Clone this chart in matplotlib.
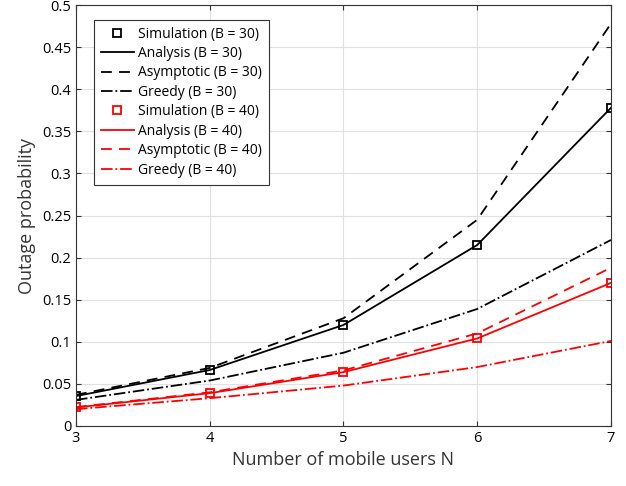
import numpy as np
import matplotlib.pyplot as plt

plt.rcParams['font.family'] = ['Open Sans', 'DejaVu Sans']

N = [3, 4, 5, 6, 7]

# B = 30
sim30 = [0.0355, 0.0665, 0.120, 0.215, 0.378]
ana30 = [0.0355, 0.0665, 0.120, 0.215, 0.378]
asy30 = [0.037, 0.069, 0.128, 0.245, 0.478]
gre30 = [0.031, 0.054, 0.087, 0.139, 0.221]

# B = 40
sim40 = [0.022, 0.039, 0.064, 0.104, 0.170]
ana40 = [0.022, 0.039, 0.064, 0.104, 0.170]
asy40 = [0.0225, 0.040, 0.066, 0.110, 0.188]
gre40 = [0.020, 0.033, 0.048, 0.070, 0.101]

fig = plt.figure(figsize=(6.26, 4.86), dpi=100)
ax = fig.add_axes([0.1214, 0.1235, 0.8546, 0.866])

ax.plot(N, sim30, 's', color='k', mfc='none', ms=6, mew=1.3, label='Simulation (B = 30)')
ax.plot(N, ana30, '-', color='k', lw=1.3, label='Analysis (B = 30)')
ax.plot(N, asy30, '--', color='k', lw=1.3, dashes=(6, 4), label='Asymptotic (B = 30)')
ax.plot(N, gre30, '-.', color='k', lw=1.3, label='Greedy (B = 30)')
ax.plot(N, sim40, 's', color='r', mfc='none', ms=6, mew=1.3, label='Simulation (B = 40)')
ax.plot(N, ana40, '-', color='r', lw=1.3, label='Analysis (B = 40)')
ax.plot(N, asy40, '--', color='r', lw=1.3, dashes=(6, 4), label='Asymptotic (B = 40)')
ax.plot(N, gre40, '-.', color='r', lw=1.3, label='Greedy (B = 40)')

ax.set_xlim(3, 7)
ax.set_ylim(0, 0.5)
ax.set_xticks(N)
ax.set_yticks(np.arange(0, 0.51, 0.05))
ax.set_yticklabels(['0', '0.05', '0.1', '0.15', '0.2', '0.25', '0.3', '0.35', '0.4', '0.45', '0.5'])
ax.grid(True, color='#e0e0e0', lw=0.8)
ax.set_axisbelow(True)
ax.tick_params(labelsize=10.5, direction='in', color='#333333', top=True, right=True)
for s in ax.spines.values():
    s.set_color('#333333')

ax.set_xlabel('Number of mobile users N', fontsize=13, color='#333333')
ax.set_ylabel('Outage probability', fontsize=13, color='#333333')

leg = ax.legend(loc='upper left', bbox_to_anchor=(0.02, 0.982), fontsize=10,
                fancybox=False, edgecolor='#333333', framealpha=1,
                handlelength=2.4, handletextpad=0.3, labelspacing=0.32, borderpad=0.5)
leg.get_frame().set_linewidth(0.8)

fig.savefig('out.png', dpi=100)
